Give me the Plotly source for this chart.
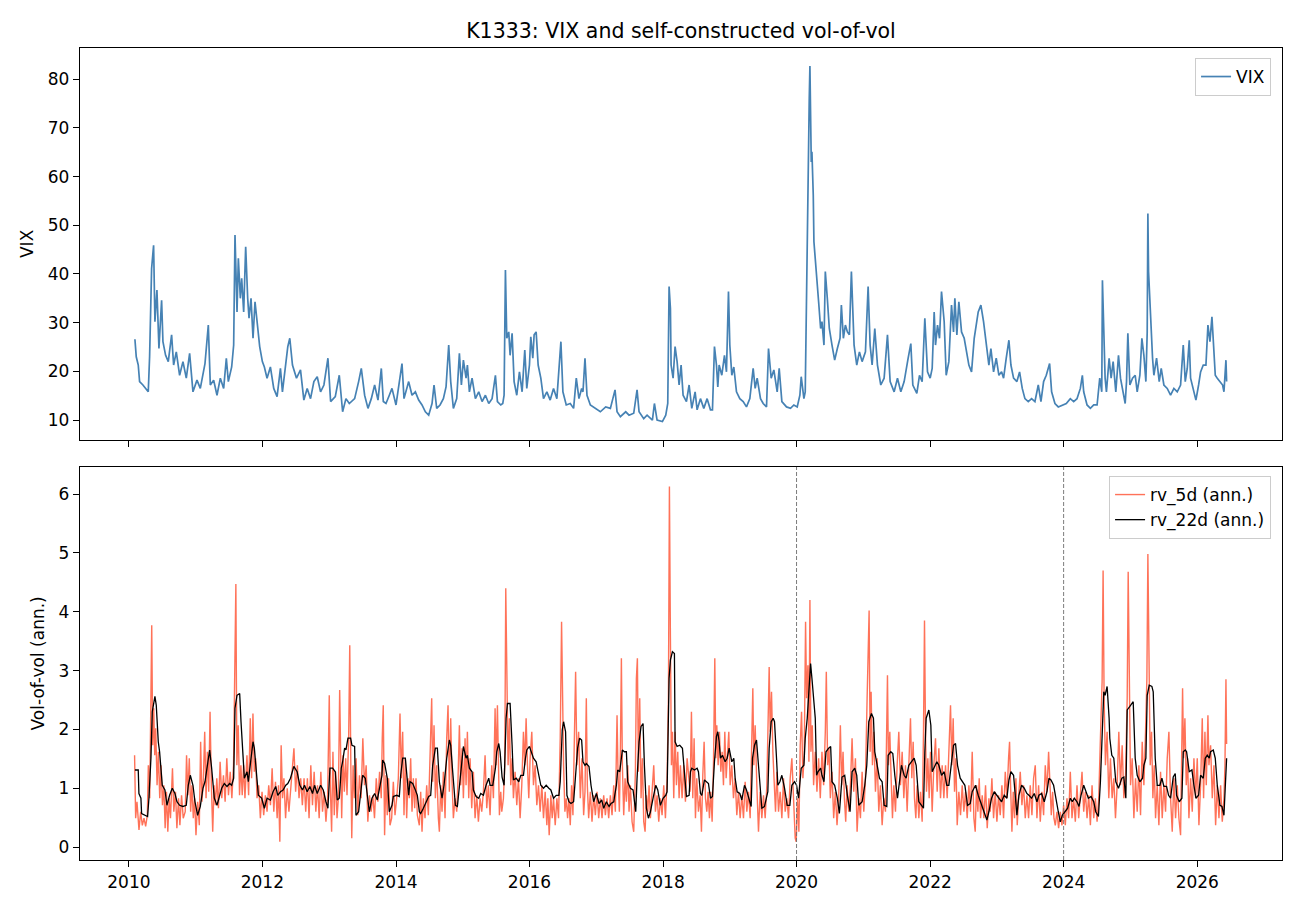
import pandas as pd
import plotly.graph_objects as go

TITLE = "K1333: VIX and self-constructed vol-of-vol"
YEAR_TICKS = [2010, 2012, 2014, 2016, 2018, 2020, 2022, 2024, 2026]
VIX_TICKS = [10, 20, 30, 40, 50, 60, 70, 80]
VOV_TICKS = [0, 1, 2, 3, 4, 5, 6]
MARK_YEARS = [2020, 2024]

# ---- VIX (time in decimal years, value) ----
VIX_T = [
 2010.09,2010.11,2010.14,2010.16,2010.21,2010.26,2010.29,2010.31,2010.34,2010.37,2010.39,2010.42,2010.45,2010.49,2010.51,2010.55,2010.59,2010.64,2010.67,2010.71,2010.76,2010.81,2010.86,2010.91,2010.96,
 2011.02,2011.07,2011.14,2011.19,2011.22,2011.27,2011.32,2011.37,2011.42,2011.46,2011.49,2011.54,2011.57,2011.59,2011.62,2011.64,2011.67,2011.69,2011.72,2011.75,2011.78,2011.80,2011.83,2011.86,2011.89,2011.93,2011.96,
 2012.00,2012.03,2012.07,2012.12,2012.17,2012.22,2012.27,2012.30,2012.38,2012.41,2012.45,2012.51,2012.57,2012.62,2012.67,2012.72,2012.77,2012.82,2012.87,2012.92,2012.98,
 2013.02,2013.09,2013.15,2013.20,2013.25,2013.30,2013.38,2013.44,2013.48,2013.53,2013.58,2013.63,2013.68,2013.73,2013.78,2013.81,2013.85,2013.90,
 2013.94,2014.00,2014.05,2014.09,2014.12,2014.19,2014.24,2014.29,2014.34,2014.39,2014.44,2014.49,2014.54,2014.57,2014.61,2014.66,2014.71,2014.75,2014.79,2014.82,2014.86,2014.91,2014.95,2014.98,
 2015.01,2015.05,2015.07,2015.10,2015.14,2015.19,2015.24,2015.29,2015.34,2015.39,2015.44,2015.49,2015.52,2015.57,2015.60,2015.62,2015.64,2015.66,2015.69,2015.71,2015.74,2015.77,2015.81,2015.85,2015.89,2015.93,2015.96,
 2016.00,2016.02,2016.05,2016.07,2016.10,2016.13,2016.17,2016.21,2016.26,2016.31,2016.36,2016.41,2016.45,2016.47,2016.50,2016.55,2016.61,2016.66,2016.70,2016.74,2016.78,2016.80,2016.83,2016.86,2016.91,2016.99,
 2017.06,2017.14,2017.21,2017.28,2017.31,2017.36,2017.44,2017.49,2017.56,2017.61,2017.64,2017.71,2017.76,2017.84,2017.87,2017.91,2017.99,
 2018.04,2018.07,2018.09,2018.11,2018.12,2018.15,2018.18,2018.21,2018.24,2018.27,
 2018.30,2018.35,2018.39,2018.43,2018.48,2018.51,2018.56,2018.61,2018.66,2018.71,2018.74,2018.77,2018.80,2018.82,2018.84,2018.88,2018.92,2018.95,2018.98,
 2019.00,2019.03,2019.06,2019.10,2019.15,2019.20,2019.25,2019.30,2019.35,2019.38,2019.41,2019.46,2019.50,2019.55,2019.58,2019.62,2019.66,2019.71,2019.74,2019.78,2019.85,2019.91,2019.96,
 2020.01,2020.05,2020.07,2020.11,2020.13,2020.15,2020.17,2020.19,2020.20,2020.22,2020.23,2020.25,2020.26,2020.28,2020.31,2020.33,2020.36,2020.38,2020.41,2020.43,2020.46,2020.49,2020.53,2020.57,2020.61,2020.65,2020.67,2020.70,2020.73,2020.76,2020.79,2020.82,2020.86,2020.90,2020.94,2020.98,
 2021.03,2021.07,2021.10,2021.13,2021.17,2021.21,2021.26,2021.31,2021.36,2021.40,2021.46,2021.51,2021.56,2021.61,2021.67,2021.71,2021.74,2021.80,2021.84,2021.88,2021.92,2021.96,
 2022.00,2022.03,2022.06,2022.08,2022.11,2022.14,2022.17,2022.21,2022.24,2022.28,2022.32,2022.35,2022.37,2022.40,2022.43,2022.47,2022.51,2022.55,2022.58,2022.62,2022.66,
 2022.72,2022.76,2022.80,2022.84,2022.88,2022.91,2022.95,2022.99,
 2023.03,2023.07,2023.10,2023.14,2023.18,2023.21,2023.25,2023.30,2023.34,2023.38,2023.42,2023.47,2023.52,2023.57,2023.62,2023.66,2023.70,2023.74,2023.77,2023.79,2023.82,2023.87,2023.92,2023.98,
 2024.04,2024.10,2024.15,2024.20,2024.25,2024.28,2024.30,2024.35,2024.40,2024.45,2024.50,2024.54,2024.57,2024.58,2024.60,2024.62,2024.64,2024.68,2024.71,2024.74,2024.78,2024.82,2024.85,2024.89,2024.92,2024.94,2024.96,2024.99,
 2025.03,2025.07,2025.10,2025.14,2025.17,2025.20,2025.23,2025.25,2025.26,2025.27,2025.29,2025.31,2025.33,2025.35,2025.39,2025.43,2025.46,2025.50,2025.55,2025.60,2025.65,2025.70,2025.75,2025.79,2025.82,2025.85,2025.88,2025.90,2025.94,2025.98,
 2026.02,2026.05,2026.09,2026.13,2026.16,2026.19,2026.22,2026.24,2026.27,2026.30,2026.34,2026.38,2026.40,2026.43,2026.44,
]
VIX_V = [
 26.6,23.0,21.3,17.9,17.2,16.2,15.8,23.0,41.1,45.9,30.2,36.7,24.7,34.6,26.1,23.3,22.0,27.5,21.3,24.0,19.2,22.0,18.6,23.7,15.8,
 18.2,16.5,21.6,29.5,17.2,18.2,15.1,18.6,16.5,22.7,17.9,20.9,25.4,48.0,32.2,43.2,35.0,39.1,32.2,45.6,35.0,30.9,35.0,26.8,34.3,28.1,25.1,
 22.0,20.9,18.6,20.9,16.5,14.8,20.6,15.8,25.1,26.8,21.3,18.6,20.3,14.1,16.5,14.4,17.9,18.9,15.8,17.2,22.7,
 13.8,14.8,19.2,11.7,14.4,13.4,14.4,17.9,20.6,15.1,12.4,14.4,17.2,14.1,20.6,13.8,13.4,15.1,
 16.5,13.1,17.9,21.6,14.4,17.9,15.1,15.8,14.1,13.1,11.7,11.0,13.4,17.2,12.4,13.1,14.4,16.8,25.4,17.9,12.4,14.4,23.7,17.2,
 22.3,18.6,21.3,15.8,18.6,14.4,15.8,13.8,15.1,13.4,14.4,19.2,13.8,13.1,13.4,15.1,40.8,26.8,28.1,23.3,27.8,17.9,15.1,19.9,15.8,24.4,16.5,
 21.3,27.1,22.7,27.5,28.1,21.3,18.6,14.4,15.8,14.1,16.5,14.4,21.3,26.1,15.8,13.1,13.4,12.4,18.6,14.4,16.5,15.8,22.7,15.1,13.1,12.4,
 11.7,12.7,12.4,16.2,11.7,10.7,11.7,11.0,11.4,16.2,11.7,10.3,11.0,10.0,13.4,10.0,9.7,
 11.0,13.4,37.4,32.9,21.3,18.6,25.1,22.0,17.2,21.3,
 15.1,13.8,17.2,12.4,15.8,12.1,14.4,12.4,14.4,12.1,12.1,25.1,21.3,16.8,21.3,19.2,23.3,19.9,36.4,
 25.4,19.2,20.9,15.8,14.4,13.8,12.7,14.4,20.6,16.5,18.6,14.4,13.4,12.7,24.7,18.6,20.3,15.8,20.6,13.8,12.7,12.4,13.1,
 12.7,15.1,18.9,14.4,15.8,39.8,54.1,76.0,82.7,63.0,65.1,56.2,46.6,42.5,37.7,34.3,28.8,30.2,25.4,40.5,35.0,28.8,25.4,22.3,24.7,26.8,33.6,26.8,29.5,28.1,27.5,40.5,25.4,21.3,24.0,22.0,
 24.0,37.4,25.4,21.3,28.8,21.3,17.2,18.6,27.5,17.9,15.8,18.6,15.8,17.9,22.7,25.7,17.2,15.5,19.2,17.9,30.9,19.9,
 18.6,20.6,32.2,25.4,29.5,26.8,36.4,30.2,19.2,22.0,33.6,28.1,35.0,27.5,34.3,28.1,26.8,23.3,21.3,19.9,26.8,
 32.2,33.6,30.2,26.1,21.3,24.7,19.9,22.7,
 19.2,19.9,18.6,22.7,26.4,21.3,18.6,17.9,19.9,16.5,14.4,13.8,14.4,13.8,17.2,13.8,17.9,19.2,20.6,21.6,15.8,13.4,12.7,13.1,
 13.4,14.4,13.8,14.4,16.5,19.2,15.8,13.1,12.4,13.1,13.1,18.6,15.8,38.7,28.8,18.6,15.8,22.7,18.6,22.0,15.8,23.3,18.6,15.1,13.4,17.9,27.8,17.2,
 18.6,19.2,15.8,19.2,26.8,23.3,17.9,28.1,52.4,40.5,33.6,26.8,22.7,19.2,22.7,17.9,20.6,17.2,16.5,15.1,16.5,15.8,17.2,25.4,17.9,20.6,26.4,18.6,16.5,14.1,
 17.2,19.9,21.3,21.3,29.5,26.1,31.2,25.4,19.2,18.6,17.9,17.2,15.8,22.3,17.9,
]

# ---- rv_22d (annualised) ----
RV22_T = [
 2010.09,2010.14,2010.15,2010.18,2010.19,2010.24,2010.28,2010.30,2010.33,2010.35,2010.39,2010.41,2010.44,2010.46,2010.50,2010.54,2010.57,2010.61,2010.65,2010.69,2010.72,2010.76,2010.81,2010.86,2010.89,2010.92,2010.96,2010.99,
 2011.03,2011.07,2011.11,2011.14,2011.18,2011.21,2011.24,2011.28,2011.32,2011.36,2011.39,2011.43,2011.47,2011.51,2011.54,2011.57,2011.59,2011.62,2011.66,2011.68,2011.71,2011.73,2011.77,2011.79,2011.83,2011.86,2011.88,2011.91,2011.94,2011.99,
 2012.03,2012.07,2012.12,2012.16,2012.20,2012.23,2012.27,2012.31,2012.35,2012.38,2012.42,2012.47,2012.52,2012.56,2012.60,2012.63,2012.67,2012.71,2012.75,2012.78,2012.82,2012.87,2012.91,2012.95,2012.98,
 2013.01,2013.05,2013.09,2013.12,2013.15,2013.18,2013.20,2013.23,2013.25,2013.28,2013.32,2013.34,2013.38,2013.40,2013.44,2013.48,2013.50,2013.54,2013.57,2013.60,2013.64,2013.68,2013.72,2013.75,2013.79,2013.80,2013.83,2013.87,2013.90,
 2013.94,2013.96,2014.01,2014.05,2014.07,2014.10,2014.14,2014.16,2014.19,2014.21,2014.25,2014.29,2014.32,2014.35,2014.37,2014.41,2014.45,2014.49,2014.52,2014.55,2014.59,2014.62,2014.65,2014.69,2014.72,2014.76,2014.80,2014.82,2014.85,2014.89,2014.92,2014.96,2014.99,
 2015.01,2015.05,2015.07,2015.10,2015.14,2015.16,2015.20,2015.24,2015.27,2015.31,2015.35,2015.39,2015.41,2015.45,2015.49,2015.51,2015.54,2015.56,2015.59,2015.62,2015.65,2015.67,2015.71,2015.74,2015.76,2015.80,2015.84,2015.87,2015.91,2015.94,2015.96,
 2016.00,2016.04,2016.06,2016.10,2016.14,2016.17,2016.21,2016.25,2016.29,2016.32,2016.36,2016.40,2016.44,2016.46,2016.49,2016.51,2016.54,2016.56,2016.59,2016.62,2016.66,2016.70,2016.72,2016.75,2016.78,2016.80,2016.83,2016.85,2016.89,2016.92,2016.96,
 2017.00,2017.04,2017.08,2017.11,2017.15,2017.19,2017.22,2017.26,2017.30,2017.32,2017.35,2017.39,2017.42,2017.45,2017.47,2017.51,2017.55,2017.59,2017.61,2017.64,2017.67,2017.70,2017.72,2017.75,2017.78,2017.81,2017.85,2017.89,2017.92,2017.96,
 2018.00,2018.04,2018.06,2018.09,2018.11,2018.14,2018.17,2018.18,2018.21,2018.25,2018.29,2018.32,2018.35,2018.39,
 2018.41,2018.43,2018.47,2018.51,2018.53,2018.56,2018.58,2018.62,2018.65,2018.68,2018.71,2018.74,2018.77,2018.80,2018.82,2018.84,2018.86,2018.89,2018.93,2018.96,2018.99,
 2019.03,2019.06,2019.08,2019.11,2019.15,2019.18,2019.22,2019.25,2019.28,2019.32,2019.34,2019.37,2019.40,2019.42,2019.45,2019.48,2019.52,2019.55,2019.57,2019.59,2019.62,2019.65,2019.67,2019.70,2019.72,2019.75,2019.78,2019.82,2019.86,2019.90,2019.93,2019.97,
 2020.00,2020.03,2020.07,2020.11,2020.13,2020.16,2020.18,2020.21,2020.23,2020.26,2020.28,2020.30,2020.32,2020.36,2020.38,2020.41,2020.44,2020.48,2020.51,2020.53,2020.57,2020.61,2020.64,2020.68,2020.72,2020.76,2020.80,2020.83,2020.87,2020.90,2020.93,2020.98,
 2021.02,2021.05,2021.08,2021.12,2021.15,2021.17,2021.21,2021.24,2021.28,2021.31,2021.35,2021.37,2021.41,2021.44,2021.47,2021.51,2021.54,2021.57,2021.61,2021.64,2021.68,2021.72,2021.76,2021.79,2021.83,2021.87,2021.90,2021.92,2021.94,2021.98,
 2022.01,2022.03,2022.07,2022.10,2022.13,2022.17,2022.21,2022.25,2022.28,2022.32,2022.35,2022.38,2022.41,2022.45,2022.48,2022.52,2022.56,2022.60,2022.63,
 2022.68,2022.72,2022.77,2022.82,2022.85,2022.88,2022.92,2022.96,
 2023.00,2023.03,2023.07,2023.11,2023.15,2023.18,2023.21,2023.25,2023.27,2023.30,2023.33,2023.37,2023.41,2023.45,2023.48,2023.52,2023.56,2023.60,2023.63,2023.67,2023.71,2023.75,2023.78,2023.81,2023.85,2023.88,2023.92,2023.95,2023.98,
 2024.02,2024.06,2024.10,2024.13,2024.16,2024.20,2024.23,2024.26,2024.30,2024.33,2024.37,2024.41,2024.45,2024.48,2024.52,2024.55,2024.58,2024.60,2024.62,2024.65,2024.68,2024.69,2024.72,2024.75,2024.78,2024.82,2024.87,2024.90,2024.93,2024.95,2024.99,
 2025.02,2025.04,2025.07,2025.10,2025.14,2025.18,2025.20,2025.23,2025.25,2025.28,2025.32,2025.34,2025.37,2025.40,2025.44,2025.47,2025.50,2025.54,2025.57,2025.60,2025.64,2025.67,2025.69,2025.73,2025.77,2025.79,2025.82,2025.84,2025.88,2025.92,2025.95,2025.98,
 2026.02,2026.05,2026.09,2026.12,2026.15,2026.18,2026.20,2026.24,2026.27,2026.30,2026.34,2026.37,2026.40,2026.43,2026.44,
]
RV22_V = [
 1.31,1.31,0.91,0.83,0.57,0.54,0.52,0.83,1.51,2.30,2.56,2.41,1.79,1.62,1.05,0.97,0.71,0.88,1.00,0.91,0.77,0.71,0.69,0.71,1.05,1.22,1.05,0.77,
 0.54,0.69,1.00,1.11,1.39,1.65,1.34,0.83,0.71,0.88,1.00,1.08,1.03,1.08,1.05,1.17,2.36,2.58,2.61,2.13,1.56,1.17,1.28,1.11,1.51,1.79,1.68,1.34,0.88,0.83,
 0.66,0.83,0.80,0.94,1.03,0.88,0.94,0.97,1.05,1.08,1.17,1.37,1.28,1.05,0.97,1.05,0.94,1.03,0.91,1.05,0.91,1.05,0.97,0.77,0.66,
 1.34,1.34,1.28,0.80,0.83,1.34,1.45,1.68,1.65,1.85,1.85,1.73,1.71,0.54,0.60,1.05,1.22,1.17,0.83,0.60,0.83,0.91,0.80,0.97,1.22,1.48,1.42,1.17,0.60,
 0.71,0.86,0.88,0.86,1.22,1.51,1.51,1.22,0.88,1.11,1.08,0.97,0.88,0.60,0.57,0.66,0.77,0.86,0.88,1.39,1.68,1.68,1.11,0.83,1.05,1.51,1.82,1.73,1.28,0.71,0.69,1.17,1.56,
 1.71,1.51,1.56,1.34,1.28,0.97,0.86,0.83,0.91,0.88,1.05,1.17,1.05,1.05,1.34,1.62,1.76,1.62,1.19,1.05,2.19,2.44,2.44,1.73,1.14,1.17,1.11,1.22,1.22,1.51,1.65,
 1.71,1.56,1.51,1.45,1.19,1.05,1.00,1.05,1.00,0.97,0.83,0.88,0.88,1.11,1.99,2.13,1.96,0.88,0.77,0.74,0.77,1.39,1.68,1.85,1.82,1.45,1.39,1.42,1.37,1.05,0.77,
 0.91,0.74,0.80,0.66,0.77,0.69,0.74,0.77,1.05,1.31,1.28,1.65,1.62,1.62,1.11,1.00,0.97,0.60,1.17,1.79,2.05,2.10,1.39,0.66,0.49,0.60,0.83,1.05,0.97,0.71,
 0.83,0.88,0.94,2.87,3.18,3.32,3.29,1.79,1.71,1.73,1.68,1.22,0.86,0.88,
 1.28,1.34,1.31,1.34,1.28,0.91,0.88,1.14,1.11,1.08,0.83,0.86,1.45,1.88,1.96,1.79,1.51,1.56,1.45,1.51,1.68,
 1.45,1.51,1.17,0.94,0.91,0.80,1.05,0.97,0.83,0.69,1.51,1.73,1.82,1.51,1.17,0.66,0.69,0.83,0.94,1.68,2.13,2.19,2.13,1.51,1.05,1.11,1.22,1.00,0.71,0.71,1.05,1.11,
 1.05,0.83,1.34,1.39,1.85,2.19,2.64,3.12,2.87,2.53,2.19,1.22,1.28,1.34,1.22,1.11,1.62,1.68,1.71,1.11,1.05,0.83,0.57,1.19,1.22,0.88,0.60,1.28,1.34,1.22,0.71,0.77,
 1.05,1.39,2.13,2.27,2.19,1.62,1.39,1.17,1.11,0.71,0.69,1.56,1.62,1.59,1.22,0.83,1.11,1.39,1.22,1.17,1.39,1.45,1.51,1.39,0.77,0.71,0.66,1.62,2.19,2.33,
 2.07,1.28,1.39,1.45,1.39,1.22,1.28,1.05,1.05,1.51,1.73,1.76,1.39,1.17,1.11,1.05,0.71,0.74,0.94,
 1.05,0.88,0.71,0.54,0.46,0.60,0.83,0.94,
 0.88,0.83,0.77,0.88,0.83,1.14,1.28,1.22,0.88,0.54,0.88,1.05,1.00,0.91,0.88,0.83,0.91,0.77,0.88,0.91,0.77,0.94,1.17,1.14,1.05,0.83,0.60,0.43,0.54,
 0.60,0.66,0.83,0.77,0.83,0.77,0.69,0.88,1.05,0.97,0.83,0.86,0.77,0.60,0.52,1.11,2.07,2.64,2.58,2.73,2.19,1.85,1.56,1.51,1.11,1.00,1.17,1.19,0.83,2.33,2.39,
 2.44,2.47,1.51,1.22,1.11,1.17,1.39,1.51,2.58,2.75,2.73,2.64,1.51,1.05,1.05,1.17,1.03,1.03,0.88,0.83,1.19,1.25,0.88,0.77,0.83,1.62,1.65,1.62,1.28,1.31,1.05,0.83,
 0.88,1.22,1.17,1.51,1.56,1.51,1.62,1.65,1.51,1.05,0.71,0.69,0.54,1.11,1.51,
]

# ---- rv_5d (annualised) ----
RV5_T = [
 2010.085,2010.101,2010.121,2010.151,2010.176,2010.201,2010.226,2010.251,2010.276,2010.291,
 2010.312,2010.327,2010.342,2010.357,2010.372,2010.387,2010.402,2010.422,2010.442,2010.462,
 2010.482,2010.503,2010.523,2010.543,2010.563,2010.583,2010.603,2010.623,2010.653,2010.673,
 2010.698,2010.719,2010.744,2010.764,2010.789,2010.814,2010.844,2010.864,2010.884,2010.905,
 2010.925,2010.945,2010.965,2010.985,2011.005,2011.030,2011.055,2011.075,2011.095,2011.116,
 2011.136,2011.156,2011.176,2011.196,2011.216,2011.236,2011.256,2011.276,2011.296,2011.317,
 2011.342,2011.367,2011.392,2011.417,2011.442,2011.467,2011.492,2011.518,2011.543,2011.568,
 2011.588,2011.603,2011.618,2011.638,2011.658,2011.678,2011.698,2011.719,2011.739,2011.769,
 2011.794,2011.819,2011.839,2011.859,2011.879,2011.899,2011.920,2011.945,2011.970,2011.995,
 2012.020,2012.045,2012.070,2012.095,2012.121,2012.146,2012.171,2012.196,2012.221,2012.241,
 2012.261,2012.281,2012.302,2012.322,2012.347,2012.372,2012.397,2012.422,2012.447,2012.472,
 2012.497,2012.523,2012.548,2012.573,2012.598,2012.623,2012.648,2012.673,2012.698,2012.724,
 2012.749,2012.774,2012.799,2012.824,2012.849,2012.874,2012.899,2012.925,2012.950,2012.975,
 2013.000,2013.015,2013.035,2013.055,2013.075,2013.095,2013.116,2013.136,2013.156,2013.171,
 2013.186,2013.206,2013.226,2013.246,2013.266,2013.291,2013.307,2013.322,2013.337,2013.357,
 2013.377,2013.402,2013.427,2013.452,2013.477,2013.503,2013.528,2013.553,2013.578,2013.603,
 2013.628,2013.653,2013.678,2013.704,2013.729,2013.754,2013.779,2013.794,2013.809,2013.829,
 2013.849,2013.869,2013.889,2013.910,
 2013.935,2013.960,2013.985,2014.010,2014.035,2014.060,2014.080,2014.100,2014.120,2014.140,
 2014.160,2014.180,2014.200,2014.220,2014.240,2014.260,2014.280,2014.300,2014.320,2014.350,
 2014.370,2014.390,2014.410,2014.435,2014.460,2014.485,2014.510,2014.535,2014.550,2014.570,
 2014.590,2014.610,2014.635,2014.650,2014.670,2014.690,2014.710,2014.735,2014.760,2014.780,
 2014.800,2014.820,2014.840,2014.860,2014.885,2014.910,2014.930,2014.950,2014.970,2014.990,
 2015.010,2015.035,2015.050,2015.070,2015.090,2015.110,2015.135,2015.160,2015.185,2015.210,
 2015.235,2015.260,2015.285,2015.310,2015.335,2015.360,2015.385,2015.410,2015.435,2015.460,
 2015.485,2015.500,2015.520,2015.535,2015.550,2015.570,2015.585,2015.610,2015.630,2015.645,
 2015.660,2015.680,2015.700,2015.720,2015.740,2015.760,2015.785,2015.810,2015.835,2015.860,
 2015.885,2015.910,2015.930,2015.950,2015.970,2015.990,2016.010,2016.035,2016.060,2016.085,
 2016.110,2016.135,2016.160,2016.185,2016.210,2016.235,2016.260,2016.275,2016.295,2016.320,
 2016.340,2016.360,2016.385,2016.410,2016.435,2016.460,2016.480,2016.495,2016.510,2016.530,
 2016.550,2016.570,2016.590,2016.610,2016.630,2016.650,2016.670,2016.690,2016.710,2016.735,
 2016.760,2016.785,2016.810,2016.830,2016.850,2016.865,2016.885,2016.910,2016.935,2016.960,
 2016.985,2017.010,2017.035,2017.060,2017.085,2017.110,2017.135,2017.160,2017.185,2017.210,
 2017.235,2017.260,2017.285,2017.310,2017.325,2017.345,2017.360,2017.375,2017.390,2017.410,
 2017.430,2017.450,2017.470,2017.490,2017.510,2017.535,2017.560,2017.585,2017.600,2017.615,
 2017.630,2017.650,2017.670,2017.690,2017.710,2017.730,2017.750,2017.770,2017.790,2017.810,
 2017.835,2017.860,2017.885,2017.910,2017.935,2017.960,2017.985,2018.010,2018.035,2018.060,
 2018.080,2018.095,2018.110,2018.125,2018.140,2018.160,2018.180,2018.200,2018.220,2018.240,
 2018.260,2018.285,2018.310,2018.335,2018.360,
 2018.405,2018.425,2018.445,2018.465,2018.485,2018.505,2018.530,2018.555,2018.575,2018.595,
 2018.615,2018.635,2018.655,2018.675,2018.695,2018.715,2018.735,2018.755,2018.775,2018.790,
 2018.805,2018.825,2018.845,2018.865,2018.885,2018.905,2018.925,2018.945,2018.965,2018.985,
 2019.005,2019.030,2019.055,2019.080,2019.105,2019.130,2019.155,2019.180,2019.205,2019.230,
 2019.255,2019.280,2019.305,2019.325,2019.345,2019.360,2019.380,2019.405,2019.430,2019.455,
 2019.480,2019.505,2019.530,2019.555,2019.575,2019.590,2019.605,2019.625,2019.645,2019.665,
 2019.685,2019.705,2019.730,2019.755,2019.780,2019.805,2019.830,2019.855,2019.880,2019.905,
 2019.930,2019.955,2019.980,2019.995,2020.015,2020.035,2020.055,2020.075,2020.095,2020.115,
 2020.135,2020.150,2020.170,2020.185,2020.200,2020.215,2020.235,2020.255,2020.280,2020.305,
 2020.330,2020.355,2020.380,2020.405,2020.430,2020.445,2020.465,2020.485,2020.505,2020.530,
 2020.555,2020.580,2020.605,2020.630,2020.655,2020.675,2020.695,2020.715,2020.735,2020.755,
 2020.780,2020.805,2020.830,2020.855,2020.880,2020.905,2020.930,2020.955,2020.980,2021.005,
 2021.030,2021.055,2021.070,2021.085,2021.100,2021.115,2021.135,2021.155,2021.180,2021.205,
 2021.230,2021.255,2021.280,2021.305,2021.330,2021.345,2021.360,2021.375,2021.395,2021.415,
 2021.435,2021.455,2021.480,2021.505,2021.530,2021.555,2021.580,2021.605,2021.630,2021.655,
 2021.680,2021.705,2021.725,2021.745,2021.765,2021.785,2021.805,2021.830,2021.855,2021.880,
 2021.900,2021.915,2021.930,2021.945,2021.965,2021.985,2022.005,2022.030,2022.055,2022.080,
 2022.105,2022.130,2022.155,2022.180,2022.205,2022.230,2022.255,2022.280,2022.305,2022.325,
 2022.345,2022.365,2022.385,2022.405,2022.430,2022.455,2022.480,2022.505,2022.530,2022.555,
 2022.580,2022.605,2022.630,2022.655,2022.675,2022.695,2022.715,2022.735,2022.755,2022.780,
 2022.805,2022.830,2022.855,2022.880,
 2022.900,2022.925,2022.950,2022.975,2023.000,2023.025,2023.050,2023.075,2023.100,2023.125,
 2023.150,2023.175,2023.190,2023.205,2023.225,2023.245,2023.265,2023.285,2023.305,2023.325,
 2023.350,2023.375,2023.400,2023.425,2023.450,2023.475,2023.500,2023.525,2023.550,2023.575,
 2023.600,2023.625,2023.650,2023.675,2023.700,2023.725,2023.750,2023.775,2023.795,2023.815,
 2023.835,2023.855,2023.875,2023.900,2023.925,2023.950,2023.975,2024.000,2024.025,2024.050,
 2024.075,2024.100,2024.125,2024.150,2024.175,2024.200,2024.225,2024.250,2024.275,2024.300,
 2024.325,2024.350,2024.375,2024.400,2024.425,2024.450,2024.475,2024.500,2024.525,2024.550,
 2024.575,2024.590,2024.605,2024.625,2024.650,2024.675,2024.700,2024.725,2024.750,2024.775,
 2024.800,2024.825,2024.850,2024.875,2024.900,2024.925,2024.950,2024.965,2024.980,2025.000,
 2025.025,2025.050,2025.075,2025.100,2025.125,2025.150,2025.175,2025.200,2025.225,2025.245,
 2025.260,2025.275,2025.295,2025.315,2025.335,2025.355,2025.375,2025.400,2025.425,2025.450,
 2025.475,2025.500,2025.525,2025.550,2025.575,2025.600,2025.625,2025.650,2025.675,2025.700,
 2025.725,2025.750,2025.765,2025.780,2025.795,2025.815,2025.835,2025.855,2025.875,2025.900,
 2025.925,2025.950,2025.975,2026.000,2026.025,2026.050,2026.075,2026.095,2026.115,2026.135,
 2026.160,2026.175,2026.200,2026.225,2026.250,2026.275,2026.300,2026.325,2026.350,2026.375,
 2026.400,2026.415,2026.430,2026.440,
]
RV5_V = [
 1.56,0.49,0.77,0.29,0.60,0.37,0.49,0.35,0.54,1.39,
 0.83,2.64,3.77,1.73,2.36,1.56,2.02,1.05,1.62,0.83,
 1.39,0.71,1.05,0.32,0.94,0.26,0.83,0.49,1.34,0.60,
 0.94,0.32,0.83,0.37,0.88,0.49,0.60,1.56,0.88,1.51,
 0.60,1.05,0.49,0.83,0.20,0.77,0.37,1.79,0.77,1.17,
 1.96,0.83,1.62,0.94,2.30,1.05,0.26,1.05,0.71,1.17,
 0.66,1.45,0.83,1.22,0.77,1.51,0.88,1.28,0.83,1.39,
 3.09,4.47,1.39,2.07,0.88,1.39,0.88,1.39,0.83,1.56,
 0.88,2.19,1.17,2.27,1.28,1.51,0.83,1.05,0.49,0.94,
 0.54,0.88,0.60,1.05,0.71,1.34,0.60,1.11,0.49,1.05,
 0.09,1.73,0.83,1.17,0.49,1.00,0.60,0.94,1.39,1.68,
 0.94,1.39,0.83,1.17,0.71,1.17,0.60,1.17,0.49,1.39,
 0.71,1.28,0.60,1.05,0.49,1.28,0.60,0.94,0.43,0.83,
 2.58,1.05,0.26,1.62,0.54,1.28,0.49,0.83,2.67,1.28,
 0.49,1.56,0.94,1.51,0.88,1.90,3.43,1.51,0.15,1.39,
 0.83,1.51,0.54,1.22,0.83,1.85,1.05,1.39,0.43,0.88,
 0.60,0.88,0.49,1.17,0.77,1.28,0.83,1.85,2.41,0.20,
 1.22,0.54,1.17,0.37,
 0.49,1.11,0.54,0.83,1.17,2.27,1.17,1.96,0.54,1.51,
 0.49,1.17,0.83,1.51,0.60,1.17,0.66,1.17,0.54,0.37,
 0.94,0.26,0.83,0.49,1.05,0.54,1.39,2.53,1.11,2.07,
 0.83,1.39,0.49,0.26,1.05,0.60,1.28,0.49,1.85,2.41,
 0.94,2.19,1.11,0.49,0.83,0.60,1.17,2.07,1.05,1.68,
 0.83,1.85,1.05,1.96,0.83,1.51,0.66,1.28,0.49,0.88,
 0.43,0.83,0.60,0.94,1.56,0.66,1.05,0.54,1.39,0.83,
 2.36,1.39,2.41,1.05,0.54,0.94,0.60,0.83,1.39,4.40,
 2.53,1.39,2.19,1.05,1.51,0.83,1.28,0.71,1.17,0.49,
 1.05,1.96,1.39,2.19,1.39,0.83,1.51,1.96,1.05,1.39,
 0.71,1.05,0.60,1.05,0.49,0.94,0.37,0.83,0.20,0.88,
 0.49,0.83,0.37,0.83,0.49,1.85,3.83,1.96,1.39,0.60,
 0.83,0.49,0.83,0.37,1.05,0.54,1.51,2.98,1.39,1.96,
 0.83,1.51,0.54,0.94,2.53,1.05,0.49,0.94,0.43,0.88,
 0.54,0.94,0.49,0.83,0.49,0.88,0.54,0.83,0.49,0.88,
 0.54,1.05,0.60,2.24,1.22,0.60,1.62,3.21,1.39,0.54,
 1.17,0.77,1.39,0.60,1.05,0.43,0.26,1.28,2.87,3.21,
 1.28,2.53,0.83,1.51,0.43,0.26,0.88,0.60,1.05,0.49,
 0.94,1.39,0.60,0.88,0.43,0.83,0.54,1.05,0.49,1.17,
 2.53,6.13,3.55,1.39,1.96,0.83,1.96,1.05,1.62,0.83,
 1.39,0.83,1.39,0.77,1.51,
 0.94,2.30,0.83,1.85,0.49,1.17,0.60,0.88,0.26,1.22,
 1.79,0.83,0.60,0.94,0.49,0.94,0.43,1.39,3.21,1.51,
 2.07,1.39,1.96,1.28,1.62,1.05,1.96,1.17,1.62,1.96,
 1.05,1.39,0.83,1.17,0.54,0.94,0.49,0.88,0.49,1.11,
 0.60,0.94,0.49,1.85,2.70,1.39,2.07,1.05,0.26,0.94,
 0.49,0.88,0.49,1.05,2.07,3.06,1.96,2.64,1.62,1.05,
 0.60,1.28,0.60,0.94,0.49,1.17,0.60,0.83,0.49,1.17,
 1.51,0.83,0.15,0.09,0.83,0.26,1.73,2.30,1.17,1.56,
 3.83,2.53,3.09,1.45,4.20,1.62,2.07,1.05,1.62,0.94,
 1.51,0.83,1.62,1.05,1.96,2.98,1.39,1.68,0.83,1.28,
 0.49,0.94,0.37,0.83,2.07,1.05,1.62,0.83,0.43,1.05,
 0.60,1.05,1.85,0.94,1.51,0.26,0.83,0.49,1.28,0.60,
 1.17,2.53,3.66,4.02,1.62,2.64,1.39,1.96,0.94,1.51,
 0.60,1.05,0.37,0.83,0.60,2.07,2.92,1.39,1.96,1.17,
 0.49,1.05,0.60,1.39,1.96,1.05,1.62,0.83,1.39,0.60,
 1.28,2.19,1.17,1.79,0.83,0.49,1.05,0.49,0.94,0.43,
 1.96,3.85,1.96,0.94,1.51,0.83,1.62,0.60,1.39,1.85,
 0.94,1.68,0.83,1.39,0.83,1.39,0.83,1.51,2.41,1.39,
 2.19,0.94,1.51,0.37,0.94,0.54,1.05,0.60,0.94,0.49,
 1.05,0.60,1.62,0.49,0.26,1.05,0.60,1.17,0.49,0.88,
 0.49,1.05,0.32,0.83,
 0.60,1.17,0.49,0.94,0.43,0.88,0.54,1.05,0.49,1.28,
 0.83,1.51,1.79,1.05,0.26,0.94,0.49,1.17,0.37,0.83,
 1.28,0.71,1.05,0.49,0.88,0.49,1.05,0.54,1.17,1.39,
 0.49,1.05,0.43,0.94,0.54,1.39,0.94,1.62,1.05,0.54,
 0.94,0.49,0.37,0.60,0.32,0.60,0.37,0.71,0.37,0.83,
 0.49,1.28,0.49,0.83,0.43,1.05,0.49,0.88,1.28,0.60,
 0.94,0.49,0.88,0.37,1.05,0.49,0.83,0.43,0.83,1.85,
 2.81,4.70,2.53,1.39,1.96,0.83,1.51,0.83,1.17,0.49,
 1.05,1.96,1.05,1.73,0.83,1.17,2.53,4.68,2.41,1.05,
 1.51,0.49,1.17,0.60,1.39,0.54,1.79,1.05,1.96,2.87,
 4.98,3.09,1.39,1.96,0.83,1.39,0.49,1.05,0.37,1.28,
 0.49,1.05,0.60,1.51,1.96,0.83,0.26,1.17,0.49,1.05,
 0.49,0.20,1.39,2.70,1.51,2.19,1.05,1.51,0.49,1.17,
 0.60,1.51,0.83,1.51,0.37,1.05,2.19,0.83,1.96,1.05,
 2.24,1.39,1.73,0.83,1.39,0.37,1.05,0.49,1.05,0.43,
 0.83,1.39,2.85,1.75,
]

assert len(VIX_T) == len(VIX_V), (len(VIX_T), len(VIX_V))
assert len(RV22_T) == len(RV22_V), (len(RV22_T), len(RV22_V))
assert len(RV5_T) == len(RV5_V), (len(RV5_T), len(RV5_V))


def to_date(y):
    yi = int(y)
    start = pd.Timestamp(year=yi, month=1, day=1)
    end = pd.Timestamp(year=yi + 1, month=1, day=1)
    return start + (end - start) * (y - yi)


vix_x = [to_date(t) for t in VIX_T]
rv22_x = [to_date(t) for t in RV22_T]
rv5_x = [to_date(t) for t in RV5_T]

FONT = "DejaVu Sans"
TICK_SZ = 17

fig = go.Figure()
fig.add_trace(go.Scatter(x=vix_x, y=VIX_V, mode="lines", name="VIX",
                         line=dict(color="#4682B4", width=1.7),
                         xaxis="x", yaxis="y", legend="legend"))
fig.add_trace(go.Scatter(x=rv5_x, y=RV5_V, mode="lines", name="rv_5d (ann.)",
                         line=dict(color="#FF6347", width=1.4), opacity=0.9,
                         xaxis="x2", yaxis="y2", legend="legend2"))
fig.add_trace(go.Scatter(x=rv22_x, y=RV22_V, mode="lines", name="rv_22d (ann.)",
                         line=dict(color="black", width=1.3),
                         xaxis="x2", yaxis="y2", legend="legend2"))

xr = [to_date(2009.267), to_date(2027.27)]
tickvals = [pd.Timestamp(year=y, month=1, day=1) for y in YEAR_TICKS]
ticktext = [str(y) for y in YEAR_TICKS]

axis_common = dict(showgrid=False, zeroline=False, showline=True, mirror=True,
                   linecolor="black", linewidth=1.3, ticks="outside", ticklen=6,
                   tickwidth=1.3, tickcolor="black",
                   tickfont=dict(family=FONT, size=TICK_SZ, color="black"))

fig.update_layout(
    width=1300, height=910,
    paper_bgcolor="white", plot_bgcolor="white",
    margin=dict(l=80, r=18, t=48, b=50),
    font=dict(family=FONT, size=TICK_SZ, color="black"),
    title=dict(text=TITLE, x=0.5, xref="paper", xanchor="center",
               y=1 - 31 / 910, yref="container", yanchor="middle",
               font=dict(family=FONT, size=20.5, color="black")),
    xaxis=dict(domain=[0, 1], anchor="y", type="date", range=xr,
               tickvals=tickvals, ticktext=ticktext, showticklabels=False,
               **axis_common),
    yaxis=dict(domain=[0.5172, 1], anchor="x", range=[5.9, 86.4],
               tickvals=VIX_TICKS, **axis_common),
    xaxis2=dict(domain=[0, 1], anchor="y2", type="date", range=xr,
                tickvals=tickvals, ticktext=ticktext, **axis_common),
    yaxis2=dict(domain=[0, 0.4840], anchor="x2", range=[-0.22, 6.46],
                tickvals=VOV_TICKS, **axis_common),
    legend=dict(x=0.9909, y=0.9877, xanchor="right", yanchor="top",
                bgcolor="rgba(255,255,255,0.8)", bordercolor="#cccccc",
                borderwidth=1, font=dict(family=FONT, size=TICK_SZ)),
    legend2=dict(x=0.9909, y=0.4729, xanchor="right", yanchor="top",
                 bgcolor="rgba(255,255,255,0.8)", bordercolor="#cccccc",
                 borderwidth=1, font=dict(family=FONT, size=TICK_SZ)),
    showlegend=True,
)

for yr in MARK_YEARS:
    d = pd.Timestamp(year=yr, month=1, day=1)
    fig.add_shape(type="line", xref="x2", yref="y2 domain", x0=d, x1=d, y0=0, y1=1,
                  line=dict(color="rgba(110,110,110,0.9)", width=1, dash="4px,2px"))

fig.add_annotation(text="VIX", xref="paper", yref="paper", x=(27 - 80) / 1202,
                   y=(0.5172 + 1) / 2, textangle=-90, showarrow=False,
                   xanchor="center", yanchor="middle",
                   font=dict(family=FONT, size=TICK_SZ, color="black"))
fig.add_annotation(text="Vol-of-vol (ann.)", xref="paper", yref="paper",
                   x=(38 - 80) / 1202, y=0.4840 / 2, textangle=-90, showarrow=False,
                   xanchor="center", yanchor="middle",
                   font=dict(family=FONT, size=TICK_SZ, color="black"))

fig.write_html("out.html")
